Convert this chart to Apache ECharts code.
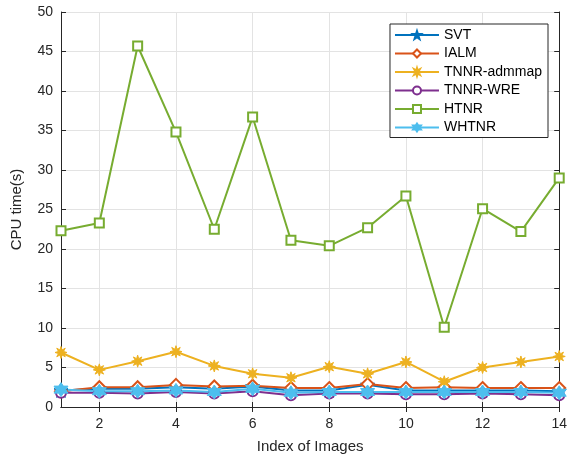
<!DOCTYPE html>
<html>
<head>
<meta charset="utf-8">
<script src="https://cdn.jsdelivr.net/npm/echarts@6/dist/echarts.min.js"></script>
<style>
  html, body { margin: 0; padding: 0; background: #fff; }
</style>
</head>
<body>
<div id="chart" style="width:570px; height:459px;"></div>
<script>
// x categories (index of images)
const imageIndex = ["1","2","3","4","5","6","7","8","9","10","11","12","13","14"]

// CPU time(s) per method
const svt        = [2.1, 2.3, 2.3, 2.5, 2.3, 2.6, 2.1, 2.1, 2.8, 2.1, 2.1, 2.1, 2.1, 2.0]
const ialm       = [2.0, 2.5, 2.5, 2.8, 2.6, 2.7, 2.4, 2.4, 2.9, 2.4, 2.5, 2.4, 2.4, 2.4]
const tnnrAdmmap = [6.9, 4.7, 5.8, 7.0, 5.2, 4.2, 3.7, 5.1, 4.2, 5.7, 3.2, 5.0, 5.7, 6.4]
const tnnrWre    = [1.8, 1.8, 1.7, 1.9, 1.7, 2.0, 1.5, 1.7, 1.7, 1.6, 1.6, 1.7, 1.6, 1.5]
const htnr       = [22.3, 23.3, 45.7, 34.8, 22.5, 36.7, 21.1, 20.4, 22.7, 26.7, 10.1, 25.1, 22.2, 29.0]
const whtnr      = [2.2, 2.0, 2.0, 2.1, 1.9, 2.3, 1.8, 1.9, 1.9, 1.9, 1.9, 1.9, 1.9, 1.8]

// star shaped marker paths
function starPath(points, inner){
    let d = ""
    for (let i = 0; i < points * 2; i++){
        let r = i % 2 === 0 ? 1 : inner
        let a = -Math.PI / 2 + i * Math.PI / points
        let x = (r * Math.cos(a)).toFixed(3)
        let y = (r * Math.sin(a)).toFixed(3)
        d += (i === 0 ? "M" : "L") + x + " " + y + " "
    }
    return "path://" + d + "Z"
}

const font = "Liberation Sans, Arial, Helvetica, sans-serif"
const evenOnly = (index) => index % 2 === 1

function makeSeries(name, data, color, symbol, size, hollow){
    return {
        name: name,
        type: "line",
        data: data,
        symbol: symbol,
        symbolSize: size,
        showAllSymbol: true,
        lineStyle: { color: color, width: 2 },
        itemStyle: hollow
            ? { color: "#fff", borderColor: color, borderWidth: 2 }
            : { color: color, borderColor: color, borderWidth: 1 },
        color: color,
        animation: false
    }
}

let myChart = echarts.init(document.getElementById("chart"))
let option = {
    backgroundColor: "#fff",
    textStyle: { fontFamily: font },
    grid: { left: 61, right: 9, top: 12, bottom: 52 },
    legend: {
        orient: "vertical",
        right: 22,
        top: 24,
        padding: [4, 6, 3, 4],
        itemGap: 4.5,
        itemWidth: 44,
        itemHeight: 10,
        backgroundColor: "#fff",
        borderColor: "#262626",
        borderWidth: 1,
        textStyle: { fontFamily: font, fontSize: 14, color: "#000", lineHeight: 14 },
        data: ["SVT", "IALM", "TNNR-admmap", "TNNR-WRE", "HTNR", "WHTNR"]
    },
    xAxis: [{
        type: "category",
        data: imageIndex,
        boundaryGap: false,
        name: "Index of Images",
        nameLocation: "middle",
        nameGap: 32,
        nameTextStyle: { fontSize: 15, color: "#262626", fontFamily: font },
        axisLine: { lineStyle: { color: "#262626" } },
        axisTick: { inside: true, length: 5, interval: evenOnly, lineStyle: { color: "#262626" } },
        axisLabel: { interval: evenOnly, fontSize: 14, color: "#262626", margin: 10, fontFamily: font },
        splitLine: { show: true, interval: evenOnly, lineStyle: { color: "#e3e3e3" } }
    }, {
        type: "category",
        data: imageIndex,
        boundaryGap: false,
        position: "top",
        axisLine: { lineStyle: { color: "#262626" } },
        axisTick: { inside: true, length: 5, interval: evenOnly, lineStyle: { color: "#262626" } },
        axisLabel: { show: false },
        splitLine: { show: false }
    }],
    yAxis: [{
        type: "value",
        min: 0,
        max: 50,
        interval: 5,
        name: "CPU time(s)",
        nameLocation: "middle",
        nameGap: 37,
        nameTextStyle: { fontSize: 15, color: "#262626", fontFamily: font },
        axisLine: { show: true, lineStyle: { color: "#262626" } },
        axisTick: { show: true, inside: true, length: 5, lineStyle: { color: "#262626" } },
        axisLabel: { fontSize: 14, color: "#262626", margin: 8, fontFamily: font },
        splitLine: { show: true, lineStyle: { color: "#e3e3e3" } }
    }, {
        type: "value",
        min: 0,
        max: 50,
        interval: 5,
        position: "right",
        axisLine: { show: true, lineStyle: { color: "#262626" } },
        axisTick: { show: true, inside: true, length: 5, lineStyle: { color: "#262626" } },
        axisLabel: { show: false },
        splitLine: { show: false }
    }],
    series: [
        makeSeries("SVT", svt, "#0072BD", starPath(5, 0.4), 14, false),
        makeSeries("IALM", ialm, "#D95319", "diamond", 12, true),
        makeSeries("TNNR-admmap", tnnrAdmmap, "#EDB120", starPath(8, 0.45), 12, false),
        makeSeries("TNNR-WRE", tnnrWre, "#7E2F8E", "circle", 10, true),
        makeSeries("HTNR", htnr, "#77AC30", "rect", 9, true),
        makeSeries("WHTNR", whtnr, "#4DBEEE", starPath(6, 0.58), 14, false)
    ]
}
myChart.setOption(option)
</script>
</body>
</html>
